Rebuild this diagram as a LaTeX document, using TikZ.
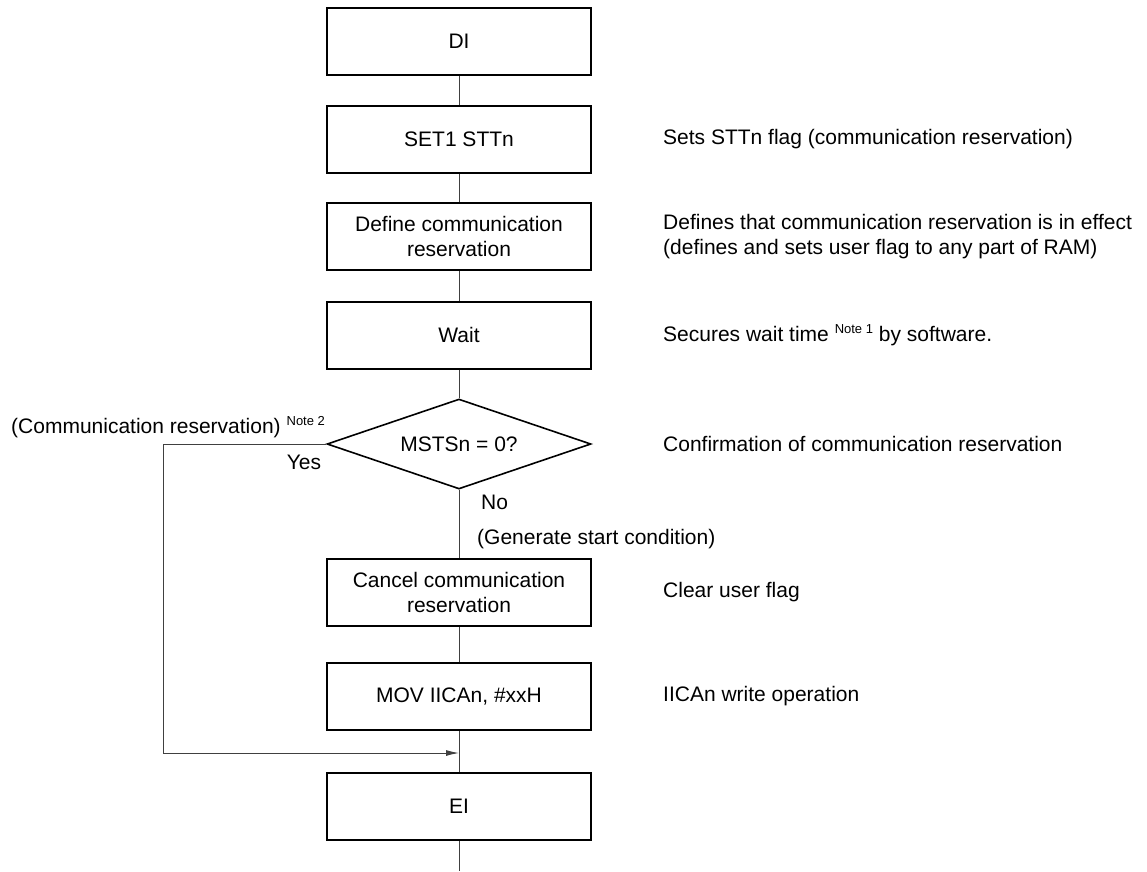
\documentclass[tikz,border=0pt]{standalone}
\usepackage{fontspec}
\setmainfont{Liberation Sans}
\usetikzlibrary{shapes.geometric,arrows.meta}
\begin{document}
\begin{tikzpicture}[x=1pt,y=-1pt,
  txt/.style={font=\fontsize{21}{25}\selectfont},
  box/.style={draw,line width=2pt,minimum width=264pt,minimum height=67pt,inner sep=0pt,align=center,txt},
  dec/.style={draw,line width=1.6pt,shape=diamond,shape aspect=2.93,minimum width=264pt,minimum height=90pt,inner sep=0pt,txt},
  note/.style={anchor=west,align=left,inner sep=0pt,txt},
  conn/.style={draw=black!75,line width=1pt}]
\newcommand{\notesup}[1]{\raisebox{8pt}{\fontsize{13}{13}\selectfont #1}}
\useasboundingbox[fill=white] (0,0) rectangle (1147,871);
\node[box] (di) at (459,41.5) {DI};
\node[box] (set) at (459,139.5) {SET1 STTn};
\node[box] (def) at (459,236.5) {Define communication\\reservation};
\node[box] (wait) at (459,335) {Wait};
\node[dec] (ms) at (459,444) {MSTSn = 0?};
\node[box] (can) at (459,592.5) {Cancel communication\\reservation};
\node[box] (mov) at (459,696.5) {MOV IICAn, \#xxH};
\node[box] (ei) at (459,806.5) {EI};
\coordinate (loopL) at (163,444);
\coordinate (join) at (459,753);
\coordinate (endpt) at (459,871);

\draw[conn] (di) -- (set);
\draw[conn] (set) -- (def);
\draw[conn] (def) -- (wait);
\draw[conn] (wait) -- (ms);
\draw[conn] (ms) -- (can);
\draw[conn] (can) -- (mov);
\draw[conn] (mov) -- (ei);
\draw[conn] (ei) -- (endpt);
\draw[conn,-{Latex[length=13pt,width=6pt]}] (ms.west) -- (loopL) |- (join);

\node[note] (n1) at (663,139.5) {Sets STTn flag (communication reservation)};
\node[note] (n2) at (663,236.5) {Defines that communication reservation is in effect\\(defines and sets user flag to any part of RAM)};
\node[note] (n3) at (663,335) {Secures wait time \notesup{Note 1} by software.};
\node[note] (n4) at (663,444) {Confirmation of communication reservation};
\node[note] (n5) at (663,592.5) {Clear user flag};
\node[note] (n6) at (663,696.5) {IICAn write operation};

\node[txt,inner sep=0pt] (yes) at (304,462) {Yes};
\node[note] (comm) at (11,427) {(Communication reservation) \notesup{Note 2}};
\node[note] (no) at (481,502) {No};
\node[note] (gen) at (477,539) {(Generate start condition)};
\end{tikzpicture}
\end{document}
